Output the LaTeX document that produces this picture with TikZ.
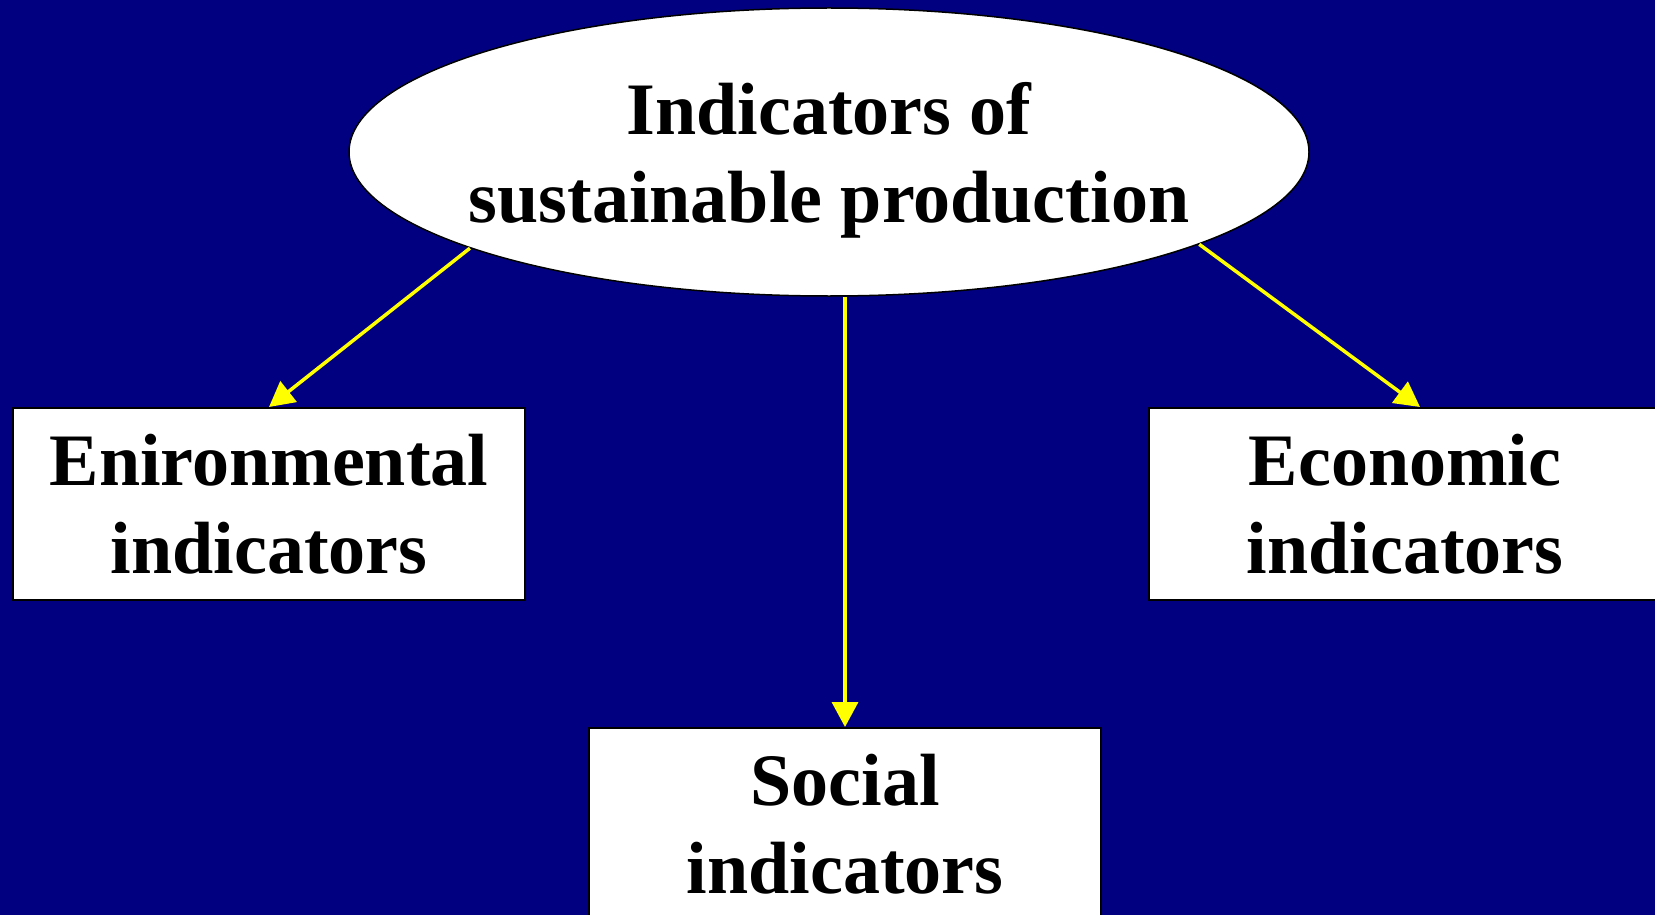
\documentclass[tikz,border=0pt]{standalone}
\usepackage{fontspec}
\setmainfont{Liberation Serif}
\usetikzlibrary{shapes.geometric,arrows.meta}
\definecolor{navybg}{RGB}{0,0,128}
\definecolor{arrowyellow}{RGB}{255,255,0}
\begin{document}
\begin{tikzpicture}[x=1pt,y=-1pt,
  lbl/.style={font=\bfseries\fontsize{74}{88}\selectfont, align=center},
  topell/.style={ellipse, draw=black, line width=1.5pt, fill=white, minimum width=960pt, minimum height=288pt, inner sep=0pt},
  catbox/.style={rectangle, draw=black, line width=2pt, fill=white, minimum width=512pt, minimum height=192pt, inner sep=0pt, lbl},
  link/.style={draw=arrowyellow, line width=3.5pt, -{Triangle[length=25pt,width=26pt]}}
]
\useasboundingbox (0,0) rectangle (1655,915);
\fill[navybg] (0,0) rectangle (1655,915);
\clip (0,0) rectangle (1655,915);
\node[topell] (top) at (829,152) {};
\node[lbl, text depth=0pt, inner sep=0pt] (toptext) at (top.center) {Indicators of\\sustainable production};
\node[catbox] (env) at (269,504) {Enironmental\\indicators};
\node[catbox] (eco) at (1405,504) {Economic\\indicators};
\node[catbox] (soc) at (845,824) {Social\\indicators};
\draw[link] (top.195.5) -- (env.north);
\draw[link] (top.346.6) -- ([xshift=15pt]eco.north);
\draw[link] (soc.north |- top.south) -- (soc.north);
\end{tikzpicture}
\end{document}
